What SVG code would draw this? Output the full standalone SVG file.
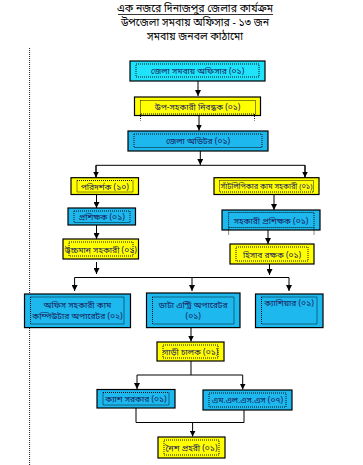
<svg xmlns="http://www.w3.org/2000/svg" width="363" height="465" viewBox="0 0 363 465">
<defs>
<marker id="ah" markerWidth="6" markerHeight="6" refX="6" refY="3" orient="auto" markerUnits="userSpaceOnUse">
<path d="M0,0 L6,3 L0,6 z" fill="#000"/>
</marker>
<style>
.c{fill:#1cb8ee;stroke:#000;stroke-width:1.2}
.c1{fill:#1fe3fa;stroke:#000;stroke-width:1.2}
.y{fill:#ffff00;stroke:#000;stroke-width:1.2}
.d{fill:none;stroke:#000;stroke-width:0.9;stroke-dasharray:1 1}
.t{font-family:"Noto Sans Bengali","Noto Sans","Liberation Sans",sans-serif;font-size:8.5px;fill:#1a1a5a;text-anchor:middle}
.h{font-family:"Noto Sans Bengali","Noto Sans","Liberation Sans",sans-serif;font-size:10.5px;fill:#000;text-anchor:middle}
.l{fill:none;stroke:#000;stroke-width:1}
.a{fill:none;stroke:#000;stroke-width:1;marker-end:url(#ah)}
</style>
</defs>
<rect width="363" height="465" fill="#fff"/>
<line x1="29.6" y1="48" x2="29.6" y2="465" class="d"/>
<g id="title">
<text class="h" x="195" y="12">এক নজরে দিনাজপুর জেলার কার্যক্রম</text>
<line x1="118" y1="14.5" x2="273" y2="14.5" stroke="#000" stroke-width="0.8"/>
<text class="h" x="195" y="26">উপজেলা সমবায় অফিসার - ১৩ জন</text>
<text class="h" x="195" y="40">সমবায় জনবল কাঠামো</text>
</g>
<g id="connectors">
<line class="a" x1="198" y1="81" x2="198" y2="96"/>
<line class="a" x1="199" y1="115.5" x2="199" y2="130.5"/>
<line class="a" x1="200.3" y1="151" x2="200.3" y2="165"/>
<polyline class="l" points="96,177 96,165.3 305,165.3 305,177"/>
<line class="a" x1="96" y1="165.3" x2="96" y2="177.5"/>
<line class="a" x1="305" y1="165.3" x2="305" y2="177.5"/>
<line class="a" x1="96.5" y1="194.5" x2="96.5" y2="208"/>
<line class="a" x1="96.5" y1="225" x2="96.5" y2="239"/>
<line class="a" x1="96.5" y1="262" x2="96.5" y2="274"/>
<line class="a" x1="274" y1="194.5" x2="274" y2="210"/>
<line class="a" x1="268" y1="230" x2="268" y2="244"/>
<line class="a" x1="269.5" y1="264" x2="269.5" y2="275"/>
<line class="l" x1="74.6" y1="277.5" x2="289" y2="277.5"/>
<line class="a" x1="74.6" y1="277.5" x2="74.6" y2="291"/>
<line class="a" x1="192" y1="277.5" x2="192" y2="291"/>
<line class="a" x1="289" y1="277.5" x2="289" y2="291"/>
<line class="a" x1="191" y1="327.6" x2="191" y2="341.5"/>
<polyline class="l" points="191,361 191,375"/>
<line class="l" x1="137" y1="375" x2="242.7" y2="375"/>
<line class="a" x1="137" y1="375" x2="137" y2="389"/>
<line class="a" x1="242.7" y1="375" x2="242.7" y2="389.5"/>
<polyline class="l" points="136,408 136,422.5 244,422.5 244,410"/>
<line class="a" x1="192.6" y1="422.5" x2="192.6" y2="436.5"/>
</g>
<g id="n1">
<rect class="c1" x="130" y="61" width="135" height="20"/>
<rect class="d" x="136" y="64" width="123" height="13"/>
<text class="t" x="197.5" y="74">জেলা সমবায় অফিসার (০১)</text>
</g>
<g id="n2">
<rect class="y" x="134.5" y="97" width="126" height="18.5"/>
<rect class="d" x="140.5" y="100.5" width="115" height="13.5"/>
<line class="d" x1="140.5" y1="114" x2="140.5" y2="120.5"/>
<line class="d" x1="254.5" y1="114" x2="254.5" y2="120.5"/>
<text class="t" x="197.5" y="110">উপ-সহকারী নিবন্ধক (০১)</text>
</g>
<g id="n3">
<rect class="c" x="128" y="131" width="140" height="20"/>
<rect class="d" x="134" y="134" width="128" height="13.5"/>
<text class="t" x="198" y="144">জেলা অডিটর (০১)</text>
</g>
<g id="n4">
<rect class="y" x="71" y="177.7" width="67.5" height="16.8"/>
<rect class="d" x="77" y="180.5" width="56" height="11.5"/>
<text class="t" x="104.7" y="189.5">পরিদর্শক (১০)</text>
</g>
<g id="n5">
<rect class="y" x="214" y="177.7" width="105" height="16.8"/>
<rect class="d" x="219.5" y="180.5" width="94" height="11.5"/>
<text class="t" x="266.5" y="189.3" style="font-size:7.4px">সাঁটলিপিকার কাম সহকারী (০১)</text>
</g>
<g id="n6">
<rect class="c" x="68" y="208" width="67.5" height="17"/>
<rect class="d" x="74" y="211" width="56" height="11.5"/>
<text class="t" x="101.7" y="220">প্রশিক্ষক (০১)</text>
</g>
<g id="n7">
<rect class="c" x="222" y="210" width="98" height="20"/>
<rect class="d" x="228.6" y="212.5" width="85.4" height="15"/>
<line class="d" x1="228.6" y1="227.5" x2="228.6" y2="235"/>
<line class="d" x1="314" y1="227.5" x2="314" y2="235"/>
<text class="t" x="271" y="223.5">সহকারী প্রশিক্ষক (০১)</text>
</g>
<g id="n8">
<rect class="y" x="63" y="239" width="75.5" height="20"/>
<rect class="d" x="69" y="242" width="64" height="14"/>
<text class="t" x="100.7" y="252.5">উচ্চমান সহকারী (০১)</text>
</g>
<g id="n9">
<rect class="y" x="230" y="244" width="84" height="20"/>
<rect class="d" x="236" y="247" width="72" height="14"/>
<text class="t" x="272" y="257.5">হিসাব রক্ষক (০১)</text>
</g>
<g id="n10">
<rect class="c" x="24.5" y="294" width="106" height="33.6"/>
<rect class="d" x="30.5" y="297" width="93.5" height="27"/>
<text class="t" x="77.5" y="307.5">অফিস সহকারী কাম</text>
<text class="t" x="77.5" y="318.5">কম্পিউটার অপারেটর (০২)</text>
</g>
<g id="n11">
<rect class="c" x="146.5" y="293" width="93.5" height="34.6"/>
<rect class="d" x="152.5" y="297" width="81.5" height="27"/>
<text class="t" x="193.2" y="307.5">ডাটা এন্ট্রি অপারেটর</text>
<text class="t" x="193.2" y="318.5">(০১)</text>
</g>
<g id="n12">
<rect class="c" x="255.5" y="294" width="67.5" height="33.6"/>
<rect class="d" x="261.5" y="297" width="55.5" height="27"/>
<text class="t" x="289" y="306">ক্যাশিয়ার (০১)</text>
</g>
<g id="n13">
<rect class="y" x="157" y="342" width="67" height="19"/>
<rect class="d" x="163" y="345" width="55" height="13"/>
<text class="t" x="190.5" y="354.5">গাড়ী চালক (০১)</text>
</g>
<g id="n14">
<rect class="c" x="97" y="389.5" width="78" height="18.5"/>
<rect class="d" x="103" y="392.5" width="66" height="12.5"/>
<text class="t" x="136" y="401.5">ক্যাশ সরকার (০১)</text>
</g>
<g id="n15">
<rect class="c" x="203" y="390" width="89" height="20"/>
<rect class="d" x="209" y="393" width="77" height="14"/>
<text class="t" x="247.5" y="403">এম.এল.এস.এস (০৭)</text>
</g>
<g id="n16">
<rect class="y" x="158" y="437" width="67" height="21"/>
<rect class="d" x="164" y="440" width="55" height="15"/>
<text class="t" x="191.5" y="450.5">নৈশ প্রহরী (০১)</text>
</g>
</svg>
